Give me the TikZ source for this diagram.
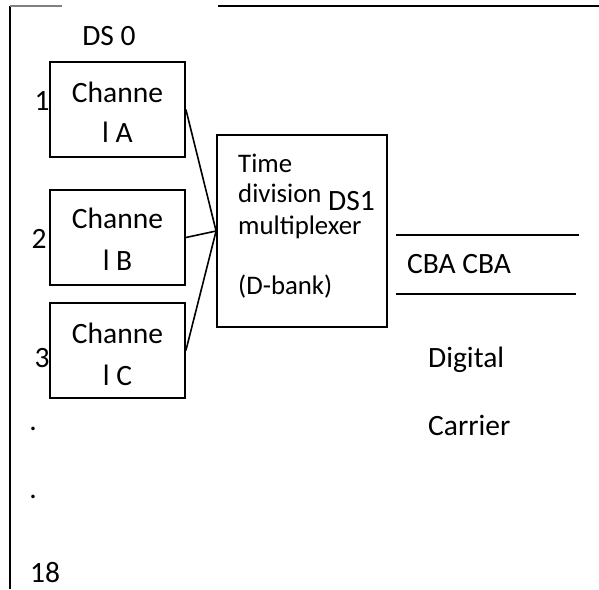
\documentclass[tikz,border=0pt]{standalone}
\usepackage{fontspec}
\setmainfont{Carlito}
\begin{document}
\begin{tikzpicture}[x=1pt,y=-1pt,
  box/.style={draw,line width=1.8pt,minimum width=135pt,minimum height=95pt,inner sep=0pt},
  mux/.style={draw,line width=1.8pt,minimum width=170pt,minimum height=192pt,inner sep=0pt},
  big/.style={inner sep=0pt,font=\fontsize{29.5}{35}\selectfont},
  small/.style={inner sep=0pt,font=\fontsize{26.8}{32}\selectfont},
  conn/.style={line width=1.6pt}]
\useasboundingbox (0,0) rectangle (599,589);
% frame
\draw[line width=2pt] (10,6) -- (10,589);
\draw[line width=1.5pt,black!50] (10,6) -- (62,6);
\draw[line width=2pt] (218,6) -- (599,6);
% boxes
\node[box] (A) at (117.5,109.5) {};
\node[box] (B) at (117.5,237.5) {};
\node[box] (C) at (117.5,350.5) {};
\node[mux] (M) at (302,231) {};
% labels
\node[big,anchor=base] (ds0) at (109,45) {DS 0};
\node[big,anchor=base] (n1) at (42,110) {1};
\node[big,anchor=base] (n2) at (39,248) {2};
\node[big,anchor=base] (n3) at (42,367) {3};
\node[big,anchor=base] (tA1) at (117.5,102) {Channe};
\node[big,anchor=base] (tA2) at (117.5,142) {l A};
\node[big,anchor=base] (tB1) at (117.5,228) {Channe};
\node[big,anchor=base] (tB2) at (117.5,270) {l B};
\node[big,anchor=base] (tC1) at (117.5,343) {Channe};
\node[big,anchor=base] (tC2) at (117.5,385) {l C};
\node[small,anchor=base west] (m1) at (238,172) {Time};
\node[small,anchor=base west] (m2) at (238,202) {division};
\node[small,anchor=base west] (m3) at (238,234) {multiplexer};
\node[small,anchor=base west] (m4) at (238,294) {(D-bank)};
\node[big,anchor=base west] (ds1) at (328,210) {DS1};
\node[big,anchor=base west] (cba) at (407,273) {CBA CBA};
\node[big,anchor=base west] (dig) at (428,367) {Digital};
\node[big,anchor=base west] (car) at (428,435) {Carrier};
\node[big,anchor=base] (d1) at (33,430) {.};
\node[big,anchor=base] (d2) at (33,498) {.};
\node[big,anchor=base west] (n18) at (30,582) {18};
% connectors
\draw[conn] (A.east) -- (M.west);
\draw[conn] (B.east) -- (M.west);
\draw[conn] (C.east) -- (M.west);
\coordinate (u1) at (396,235);
\coordinate (u2) at (579,235);
\coordinate (l1) at (396,294);
\coordinate (l2) at (576,294);
\draw[conn] (u1) -- (u2);
\draw[conn] (l1) -- (l2);
\end{tikzpicture}
\end{document}
